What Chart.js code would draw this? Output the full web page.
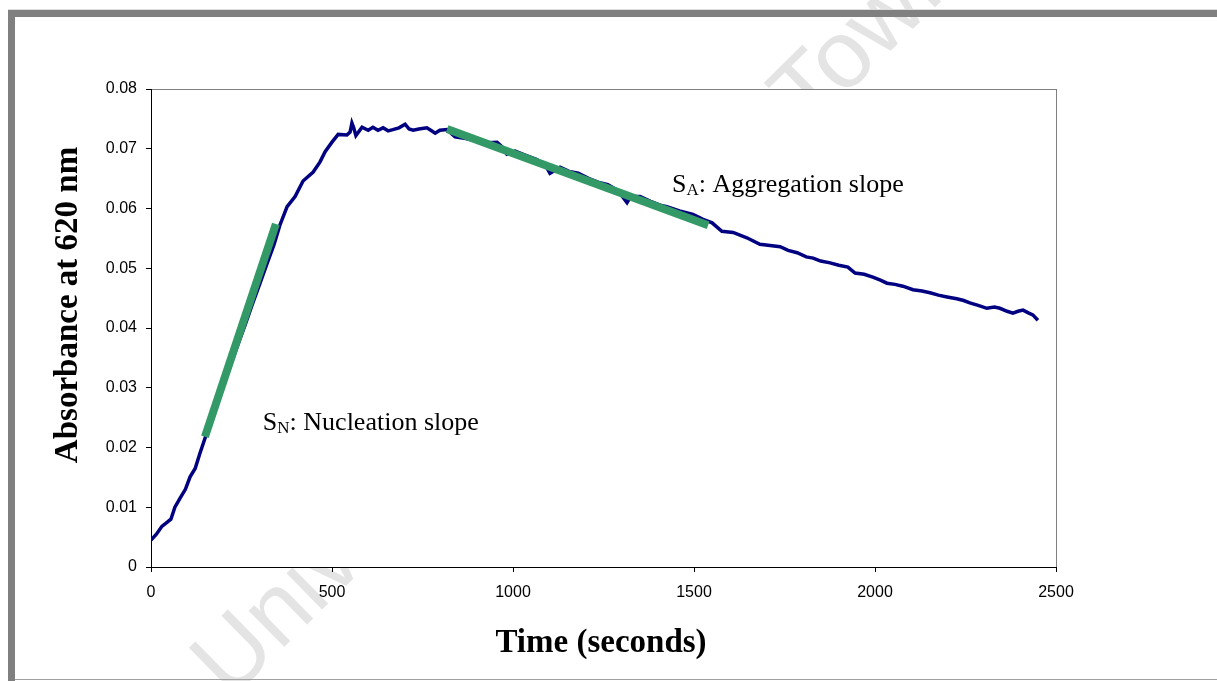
<!DOCTYPE html>
<html>
<head>
<meta charset="utf-8">
<script src="https://cdn.jsdelivr.net/npm/chart.js@4"></script>
<style>
    body { margin: 0; background: #ffffff; }
    #wrap { width: 1217px; height: 681px; }
</style>
</head>
<body>
<div id="wrap"><canvas id="absChart" width="1217" height="681"></canvas></div>
<script>
// Absorbance trace (time in seconds, absorbance at 620 nm)
const times = [0, 15, 30, 45, 55, 66, 80, 95, 108, 122, 135, 149, 165, 180, 200, 220, 240, 260, 280, 300,
    320, 340, 356, 376, 398, 420, 448, 467, 481, 500, 517, 541, 550, 555, 560, 566, 583, 600, 613, 627,
    641, 655, 668, 685, 702, 713, 724, 740, 762, 775, 785, 798, 818, 840, 870, 900, 930, 956, 970, 983,
    1006, 1030, 1066, 1090, 1102, 1130, 1155, 1180, 1210, 1240, 1262, 1290, 1315, 1325, 1351, 1380, 1410, 1425, 1460, 1497,
    1525, 1550, 1577, 1608, 1646, 1682, 1710, 1738, 1760, 1785, 1810, 1829, 1850, 1876, 1900, 1925, 1945, 1970, 1994, 2015,
    2033, 2055, 2077, 2105, 2130, 2152, 2175, 2199, 2226, 2245, 2262, 2285, 2309, 2330, 2345, 2365, 2381, 2395, 2409, 2425,
    2436, 2450];
const absorbance = [0.0045, 0.0055, 0.0068, 0.0075, 0.0080, 0.0100, 0.0115, 0.0130, 0.0151, 0.0165, 0.0190, 0.0215, 0.0245, 0.0272, 0.0305, 0.0338, 0.0372, 0.0405, 0.0440, 0.0473,
    0.0507, 0.0540, 0.0572, 0.0603, 0.0620, 0.0646, 0.0661, 0.0678, 0.0695, 0.0711, 0.0724, 0.0723, 0.0728, 0.0743, 0.0735, 0.0722, 0.0736, 0.0731, 0.0736, 0.0731,
    0.0735, 0.0730, 0.0732, 0.0735, 0.0741, 0.0733, 0.0731, 0.0733, 0.0735, 0.0730, 0.0726, 0.0731, 0.0732, 0.0720, 0.0717, 0.0713, 0.0710, 0.0711, 0.0703, 0.0691,
    0.0696, 0.0690, 0.0682, 0.0672, 0.0659, 0.0669, 0.0662, 0.0659, 0.0650, 0.0643, 0.0640, 0.0630, 0.0610, 0.0620, 0.0620, 0.0612, 0.0605, 0.0603, 0.0596, 0.0590,
    0.0582, 0.0576, 0.0562, 0.0560, 0.0551, 0.0540, 0.0538, 0.0536, 0.0530, 0.0526, 0.0519, 0.0517, 0.0512, 0.0509, 0.0505, 0.0502, 0.0492, 0.0490, 0.0485, 0.0480,
    0.0475, 0.0473, 0.0470, 0.0464, 0.0462, 0.0459, 0.0455, 0.0452, 0.0449, 0.0446, 0.0442, 0.0438, 0.0433, 0.0435, 0.0433, 0.0428, 0.0425, 0.0428, 0.0430, 0.0425,
    0.0422, 0.0413];

// Fitted slopes (start and end points)
const nucleationTimes = [149, 345];
const nucleationValues = [0.0218, 0.0574];
const aggregationTimes = [818, 1539];
const aggregationValues = [0.0733, 0.0572];

// Tick labels
const xTickLabels = ['0', '500', '1000', '1500', '2000', '2500'];
const yTickLabels = ['0', '0.01', '0.02', '0.03', '0.04', '0.05', '0.06', '0.07', '0.08'];

// Annotation anchors in data units
const slopeNotes = [
    { main: 'S', sub: 'N', rest: ': Nucleation slope', t: 309, v: 0.0229 },
    { main: 'S', sub: 'A', rest: ': Aggregation slope', t: 1439, v: 0.0628 }
];

function toPoints(xs, ys) {
    return xs.map((x, i) => ({ x: x, y: ys[i] }));
}

// Page frame, watermark and plot background
const backdropPlugin = {
    id: 'backdrop',
    beforeDraw(chart) {
        const ctx = chart.ctx;
        const area = chart.chartArea;
        ctx.save();
        // watermark
        ctx.save();
        ctx.translate(230, 700);
        ctx.rotate(-44.5 * Math.PI / 180);
        ctx.font = '96px "Liberation Sans", Arial, sans-serif';
        ctx.fillStyle = '#e4e4e4';
        ctx.textBaseline = 'alphabetic';
        ctx.fillText('University of Cape Town', 0, 0);
        ctx.restore();
        // frame
        ctx.fillStyle = '#dddddd';
        ctx.fillRect(8, 9, 1209, 1);
        ctx.fillStyle = '#808080';
        ctx.fillRect(8, 10, 1209, 7);
        ctx.fillRect(8, 10, 7, 671);
        ctx.fillStyle = '#a0a0a0';
        ctx.fillRect(15, 679, 1202, 1);
        // plot area
        ctx.fillStyle = '#ffffff';
        ctx.fillRect(area.left, area.top, area.right - area.left, area.bottom - area.top);
        ctx.strokeStyle = '#808080';
        ctx.lineWidth = 1;
        ctx.strokeRect(area.left + 0.5, area.top + 0.5, area.right - area.left, area.bottom - area.top);
        ctx.restore();
    },
    afterDraw(chart) {
        const ctx = chart.ctx;
        const xs = chart.scales.x;
        const ys = chart.scales.y;
        ctx.save();
        ctx.fillStyle = '#000000';
        // axis titles
        ctx.font = 'bold 33px "Liberation Serif", "Times New Roman", serif';
        ctx.textAlign = 'center';
        ctx.textBaseline = 'middle';
        ctx.fillText('Time (seconds)', 601, 643);
        ctx.save();
        ctx.translate(68, 305);
        ctx.rotate(-Math.PI / 2);
        ctx.fillText('Absorbance at 620 nm', 0, 0);
        ctx.restore();
        // slope notes
        ctx.textAlign = 'left';
        ctx.textBaseline = 'alphabetic';
        slopeNotes.forEach(n => {
            let x = xs.getPixelForValue(n.t);
            const y = ys.getPixelForValue(n.v);
            ctx.font = '26px "Liberation Serif", "Times New Roman", serif';
            ctx.fillText(n.main, x, y);
            x += ctx.measureText(n.main).width;
            ctx.font = '17px "Liberation Serif", "Times New Roman", serif';
            ctx.fillText(n.sub, x, y + 3);
            x += ctx.measureText(n.sub).width;
            ctx.font = '26px "Liberation Serif", "Times New Roman", serif';
            ctx.fillText(n.rest, x, y);
        });
        ctx.restore();
    }
};

const ctx = document.getElementById('absChart').getContext('2d');
const absChart = new Chart(ctx, {
    type: 'line',
    data: {
        datasets: [{
            label: 'Nucleation slope',
            data: toPoints(nucleationTimes, nucleationValues),
            borderColor: '#339966',
            borderWidth: 8,
            borderCapStyle: 'butt',
            pointRadius: 0,
            order: 0
        }, {
            label: 'Aggregation slope',
            data: toPoints(aggregationTimes, aggregationValues),
            borderColor: '#339966',
            borderWidth: 8,
            borderCapStyle: 'butt',
            pointRadius: 0,
            order: 0
        }, {
            label: 'Absorbance',
            data: toPoints(times, absorbance),
            borderColor: '#000080',
            borderWidth: 3.5,
            pointRadius: 0,
            tension: 0,
            order: 1
        }]
    },
    options: {
        responsive: false,
        animation: false,
        devicePixelRatio: 1,
        layout: {
            padding: { top: 89, right: 161, left: 0, bottom: 0 }
        },
        plugins: {
            legend: { display: false },
            tooltip: { enabled: false }
        },
        scales: {
            x: {
                type: 'linear',
                min: 0,
                max: 2500,
                afterFit: scale => { scale.height = 114; },
                afterBuildTicks: scale => {
                    scale.ticks = xTickLabels.map(l => ({ value: Number(l) }));
                },
                ticks: {
                    autoSkip: false,
                    maxRotation: 0,
                    padding: 11,
                    color: '#000000',
                    font: { family: '"Liberation Sans", Arial, sans-serif', size: 16 },
                    callback: (value, index) => xTickLabels[index]
                },
                grid: {
                    drawOnChartArea: false,
                    drawTicks: true,
                    tickLength: 5,
                    tickColor: '#000000'
                },
                border: { display: true, color: '#000000', width: 1 }
            },
            y: {
                type: 'linear',
                min: 0,
                max: 0.08,
                afterFit: scale => { scale.width = 151; },
                afterBuildTicks: scale => {
                    scale.ticks = yTickLabels.map(l => ({ value: Number(l) }));
                },
                ticks: {
                    padding: 9,
                    color: '#000000',
                    font: { family: '"Liberation Sans", Arial, sans-serif', size: 16 },
                    callback: (value, index) => yTickLabels[index]
                },
                grid: {
                    drawOnChartArea: false,
                    drawTicks: true,
                    tickLength: 5,
                    tickColor: '#000000'
                },
                border: { display: true, color: '#000000', width: 1 }
            }
        }
    },
    plugins: [backdropPlugin]
});
</script>
</body>
</html>
